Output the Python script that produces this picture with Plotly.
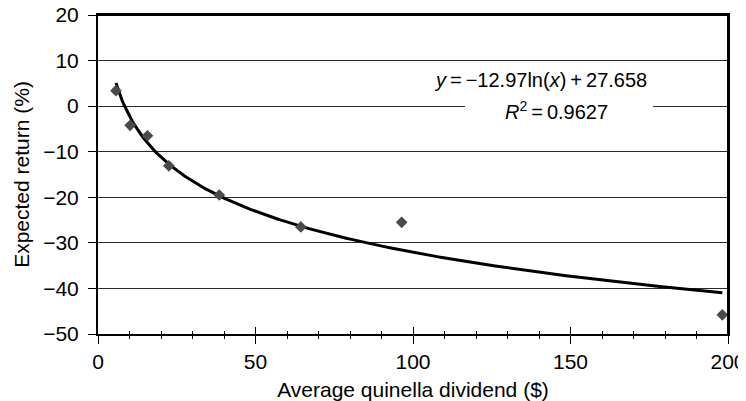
import numpy as np
import plotly.graph_objects as go

# Data
dividend = [5.7, 10.2, 15.7, 22.5, 38.5, 64.4, 96.4, 198.2]
expected_return = [3.4, -4.2, -6.5, -13.1, -19.5, -26.5, -25.5, -45.8]

# Logarithmic trendline as printed on the chart
trend_slope = -12.97
trend_intercept = 27.658
r_squared = 0.9627

x_ticks = [0, 50, 100, 150, 200]
y_ticks = [20, 10, 0, -10, -20, -30, -40, -50]

FONT = "Liberation Sans, Arial, sans-serif"
FS = 21

fit_x = np.linspace(min(dividend), max(dividend), 300)
fit_y = trend_slope * np.log(fit_x) + trend_intercept

fig = go.Figure()
fig.add_trace(go.Scatter(
    x=fit_x, y=fit_y, mode="lines",
    line=dict(color="black", width=3), showlegend=False, hoverinfo="skip"))
fig.add_trace(go.Scatter(
    x=dividend, y=expected_return, mode="markers",
    marker=dict(symbol="diamond", size=9, color="#4a4a4a"),
    showlegend=False))
# helper trace for the overlay axis (inside half of crossing ticks)
fig.add_trace(go.Scatter(x=[], y=[], xaxis="x2", yaxis="y", showlegend=False))

fig.add_shape(type="rect", xref="x", yref="y", x0=116.5, x1=176.2, y0=-5.4, y1=9.1,
              fillcolor="white", line=dict(width=0), layer="between")
# plot-area frame: top and right edges (paper-referenced, not clipped)
fig.add_shape(type="line", xref="paper", yref="paper", x0=0, x1=1, y0=1, y1=1,
              line=dict(color="black", width=2), layer="above")
fig.add_shape(type="line", xref="paper", yref="paper", x0=1, x1=1, y0=0, y1=1,
              line=dict(color="black", width=2), layer="above")

fig.add_annotation(x=140.6, y=5.8, xref="x", yref="y", showarrow=False,
                   text="<i>y</i>\u2009=\u2009\u221212.97ln(<i>x</i>)\u2009+\u200927.658",
                   font=dict(family=FONT, size=20, color="black"))
fig.add_annotation(x=145.7, y=-1.0, xref="x", yref="y", showarrow=False,
                   text="<i>R</i><sup>2</sup>\u2009=\u2009" + f"{r_squared}",
                   font=dict(family=FONT, size=20, color="black"))

# page body adds an 8px offset, so the figure is sized/margined to compensate
fig.update_layout(
    width=738, height=393,
    margin=dict(l=90, r=18, t=7, b=67, autoexpand=False),
    paper_bgcolor="white", plot_bgcolor="white",
    font=dict(family=FONT, size=FS, color="black"),
    xaxis=dict(
        range=[0, 200], tickvals=x_ticks, ticktext=[str(v) for v in x_ticks],
        showgrid=False, zeroline=False, automargin=False, ticklabeloverflow="allow",
        showline=True, linecolor="black", linewidth=2, mirror=True,
        ticks="outside", ticklen=8, tickcolor="black", tickwidth=1,
        minor=dict(dtick=10, ticks="outside", ticklen=3, tickcolor="black", showgrid=False),
        title=dict(text="Average quinella dividend ($)", standoff=12,
                   font=dict(family=FONT, size=FS)),
        tickfont=dict(family=FONT, size=FS),
    ),
    xaxis2=dict(
        range=[0, 200], overlaying="x", anchor="y", side="bottom", automargin=False,
        showgrid=False, zeroline=False, showline=False, showticklabels=False,
        tickvals=x_ticks, ticks="inside", ticklen=7, tickcolor="black", tickwidth=1,
        minor=dict(dtick=10, ticks="inside", ticklen=3, tickcolor="black", showgrid=False),
    ),
    yaxis=dict(
        range=[-50, 20], tickvals=y_ticks, ticktext=[str(v).replace("-", "\u2212") for v in y_ticks],
        showgrid=True, gridcolor="#2a2a2a", gridwidth=1, zeroline=False, automargin=False,
        ticklabeloverflow="allow",
        showline=True, linecolor="black", linewidth=2, mirror=True,
        ticks="outside", ticklen=8, tickcolor="black", tickwidth=1,
        ticklabelstandoff=5,
        title=dict(text="Expected return (%)", standoff=8,
                   font=dict(family=FONT, size=FS)),
        tickfont=dict(family=FONT, size=FS),
    ),
)

fig.write_html("out.html")
